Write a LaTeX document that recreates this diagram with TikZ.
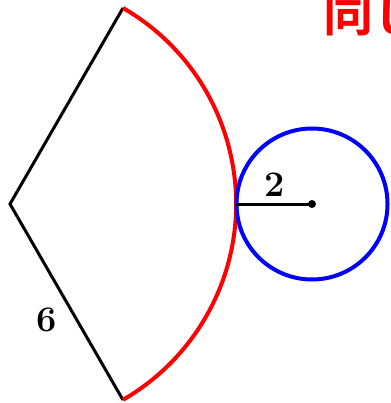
\documentclass[tikz,border=0pt]{standalone}
\usepackage{fontspec}
\newfontfamily\cjk{Noto Sans CJK JP}[BoldFont={* Bold}]
\begin{document}
\begin{tikzpicture}[x=1pt,y=-1pt,
  black line/.style={line width=3pt,black},
  red arc/.style={line width=4pt,red},
  blue circ/.style={line width=4pt,blue},
  lbl/.style={font=\fontsize{36}{42}\selectfont\bfseries,inner sep=0pt}]
\clip (0,0) rectangle (390,403);
\coordinate (O) at (10,204);
\coordinate (A) at (123,8);
\coordinate (B) at (123,400);
\coordinate (T) at (236.2,204);
\coordinate (C) at (312,204);
\draw[black line,line join=miter] (A) -- (O) -- (B);
\draw[red arc] (A) arc[start angle=-60,end angle=60,radius=226.2];
\draw[blue circ] (C) circle[radius=75.5];
\draw[black line] (T) -- (C);
\fill (C) circle[radius=4];
\node[lbl] (two) at (275,185) {2};
\node[lbl] (six) at (47,320) {6};
\node[anchor=west,inner sep=0pt,text=red,font=\cjk\bfseries\fontsize{50}{60}\selectfont] (title) at (323,14) {同じ};
\end{tikzpicture}
\end{document}
